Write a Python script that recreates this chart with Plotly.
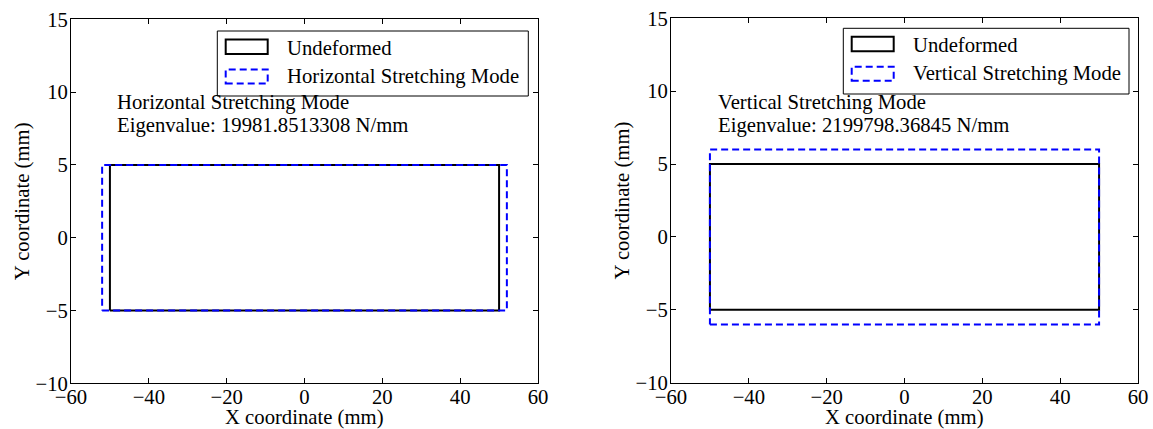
import plotly.graph_objects as go

# ---------------- data ----------------
undeformed_x = [-50, 50, 50, -50, -50]
undeformed_y = [-5, -5, 5, 5, -5]

horizontal_x = [-52, 52, 52, -52, -52]
horizontal_y = [-5, -5, 5, 5, -5]

vertical_x = [-50, 50, 50, -50, -50]
vertical_y = [-6, -6, 6, 6, -6]

x_ticks = [-60, -40, -20, 0, 20, 40, 60]
y_ticks = [-10, -5, 0, 5, 10, 15]

x_title = "X coordinate (mm)"
y_title = "Y coordinate (mm)"
left_mode = "Horizontal Stretching Mode"
left_eig = "Eigenvalue: 19981.8513308 N/mm"
right_mode = "Vertical Stretching Mode"
right_eig = "Eigenvalue: 2199798.36845 N/mm"

# ---------------- layout helpers ----------------
W, H = 1153, 429
FONT = "Liberation Serif, Times New Roman, serif"
FS = 20.7


def px(x):
    return x / W


def py(y):
    return 1 - y / H


fig = go.Figure()

solid = dict(color="black", width=2)
dashed = dict(color="blue", width=2, dash="7px,4px")

fig.add_trace(go.Scatter(x=undeformed_x, y=undeformed_y, mode="lines", line=solid,
                         name="Undeformed", xaxis="x", yaxis="y"))
fig.add_trace(go.Scatter(x=horizontal_x, y=horizontal_y, mode="lines", line=dashed,
                         name=left_mode, xaxis="x", yaxis="y"))
fig.add_trace(go.Scatter(x=undeformed_x, y=undeformed_y, mode="lines", line=solid,
                         name="Undeformed", xaxis="x2", yaxis="y2"))
fig.add_trace(go.Scatter(x=vertical_x, y=vertical_y, mode="lines", line=dashed,
                         name=right_mode, xaxis="x2", yaxis="y2"))

axis_common = dict(
    showgrid=False, zeroline=False, showline=True, linecolor="black", linewidth=1,
    mirror="ticks", ticks="inside", ticklen=5, tickcolor="black", tickwidth=1,
    automargin=False,
    tickfont=dict(family=FONT, size=FS, color="black"),
)
x_common = dict(ticklabelstandoff=-5, **axis_common)
y_common = dict(ticklabelstandoff=-2, **axis_common)

xdom1 = [px(71), px(538)]
ydom1 = [py(383.3), py(19.3)]
xdom2 = [px(671), px(1138)]
ydom2 = [py(382.7), py(18.3)]

fig.update_layout(
    template="none",
    width=W, height=H,
    margin=dict(l=0, r=0, t=0, b=0, pad=0),
    paper_bgcolor="white", plot_bgcolor="white",
    showlegend=False,
    font=dict(family=FONT, size=FS, color="black"),
    xaxis=dict(domain=xdom1, range=[-60, 60], tickvals=x_ticks, anchor="y",
               **x_common),
    yaxis=dict(domain=ydom1, range=[-10, 15], tickvals=y_ticks, anchor="x",
               title=dict(text=y_title, standoff=0,
                          font=dict(family=FONT, size=FS, color="black")),
               **y_common),
    xaxis2=dict(domain=xdom2, range=[-60, 60], tickvals=x_ticks, anchor="y2",
                **x_common),
    yaxis2=dict(domain=ydom2, range=[-10, 15], tickvals=y_ticks, anchor="x2",
                title=dict(text=y_title, standoff=0,
                           font=dict(family=FONT, size=FS, color="black")),
                **y_common),
)

annotations = []
shapes = []


def text(x, y, s, xanchor="left"):
    annotations.append(dict(text=s, x=px(x), y=py(y), xref="paper", yref="paper",
                            xanchor=xanchor, yanchor="middle", showarrow=False,
                            borderpad=0,
                            font=dict(family=FONT, size=FS, color="black")))


def rect(x0, y0, x1, y1, line):
    shapes.append(dict(type="rect", xref="paper", yref="paper",
                       x0=px(x0), x1=px(x1), y0=py(y1), y1=py(y0),
                       line=line, fillcolor="rgba(0,0,0,0)"))


# x axis titles
text((71 + 538) / 2, 417.5, x_title, xanchor="center")
text((671 + 1138) / 2, 417.5, x_title, xanchor="center")

# mode text
text(116, 102.6, left_mode)
text(116, 125.0, left_eig)
text(717, 102.6, right_mode)
text(717, 125.0, right_eig)


def legend(x0, y0, x1, y1, label):
    rect(x0, y0, x1, y1, dict(color="black", width=1))
    ix = x0 + 8.4
    rect(ix, y0 + 8.5, ix + 42, y0 + 23, solid)
    rect(ix, y0 + 38.5, ix + 42, y0 + 52.5, dashed)
    text(x0 + 68.7, y0 + 16.6, "Undeformed")
    text(x0 + 68.7, y0 + 45.5, label)


legend(217.3, 31, 528.3, 96, left_mode)
legend(843.3, 28.3, 1129, 94, right_mode)

fig.update_layout(annotations=annotations, shapes=shapes)

fig.write_html("out.html")
